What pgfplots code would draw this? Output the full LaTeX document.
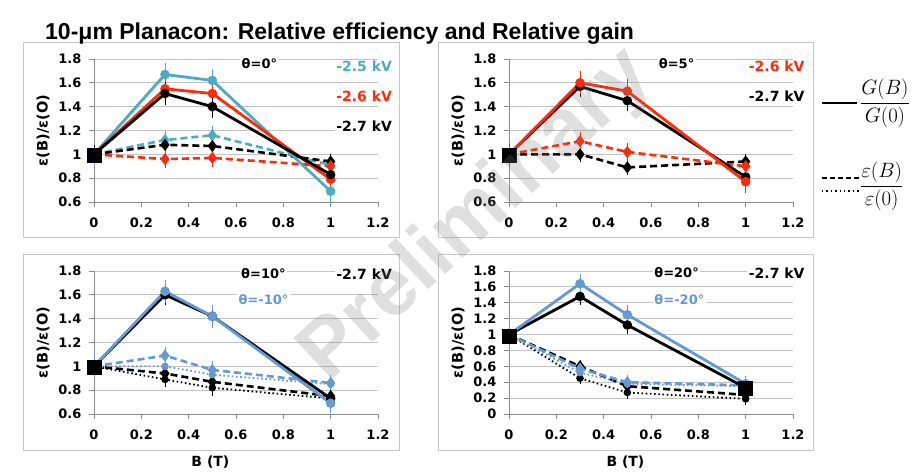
\documentclass[border=0pt]{standalone}
\usepackage{fontspec}
\setmainfont{DejaVu Sans}
\newfontfamily\arialf{Liberation Sans}
\usepackage{pgfplots}
\pgfplotsset{compat=1.18}
\definecolor{cyanX}{HTML}{4BACC6}
\definecolor{redX}{HTML}{FF2A0A}
\definecolor{blueX}{HTML}{6499D2}
\definecolor{gridX}{HTML}{C4C4C4}
\definecolor{axisX}{HTML}{8C8C8C}
\definecolor{frameX}{HTML}{C8C8C8}
\tikzset{
 lab/.style={fill=white, inner sep=1.5pt, font=\bfseries\fontsize{13}{15}\selectfont},
 kv/.style={fill=white, inner sep=1.5pt, anchor=east, font=\bfseries\fontsize{14}{16}\selectfont},
}
\pgfplotsset{
 panel/.style={scale only axis, width=284pt, height=143pt, xmin=0, xmax=1.2,
   xtick={0,0.2,0.4,0.6,0.8,1,1.2},
   axis x line=bottom, axis y line=left, axis line style={-, axisX, line width=0.8pt},
   ymajorgrids, grid style={gridX, line width=0.8pt},
   major tick style={axisX, line width=0.8pt}, major tick length=5pt, tick align=outside,
   /pgf/number format/assume math mode=true,
   ticklabel style={font=\bfseries\fontsize{13}{15}\selectfont},
   yticklabel style={xshift=-4pt},
   xticklabel style={yshift=-7pt},
   clip=false,
   ylabel={\bfseries ε(B)/ε(O)},
   every axis y label/.style={at={(axis description cs:-0.1796,0.5)}, rotate=90, anchor=center, font=\fontsize{14.5}{16}\selectfont},
   every axis x label/.style={at={(axis description cs:0.41,-0.336)}, anchor=center, font=\bfseries\fontsize{14}{16}\selectfont},
 },
 base/.style={error bars/y dir=both, error bars/y explicit,
   error bars/error bar style={line width=0.8pt, solid},
   error bars/error mark options={mark size=3pt, line width=0.8pt, solid},
   mark options={solid}},
 solidL/.style={base, line width=2.8pt, mark=*, mark size=3.3pt},
 dashL/.style={base, line width=2.6pt, dash pattern=on 7pt off 4pt, mark=diamond*, mark size=4pt},
 dotL/.style={base, line width=1.8pt, dash pattern=on 1.6pt off 2.6pt, mark=*, mark size=2.8pt},
 sq/.style={only marks, mark=square*, mark size=7pt, black},
}
\begin{document}
\begin{tikzpicture}
\path[use as bounding box, fill=white] (0pt,0pt) rectangle (924pt,473pt);
% frames
\draw[frameX, line width=1pt] (23pt,235pt) rectangle (399pt,430pt);
\draw[frameX, line width=1pt] (438pt,235pt) rectangle (813pt,430pt);
\draw[frameX, line width=1pt] (23pt,22pt) rectangle (399pt,218pt);
\draw[frameX, line width=1pt] (438pt,22pt) rectangle (813pt,218pt);
% title
\node[anchor=base west, inner sep=0pt, font=\arialf\bfseries\fontsize{23}{27}\selectfont] at (45pt,433pt) {10-μm Planacon: Relative efficiency and Relative gain};

% Panel 1
\begin{axis}[panel, at={(94pt,271pt)}, anchor=south west, ymin=0.6, ymax=1.8,
  ytick={0.6,0.8,1,1.2,1.4,1.6,1.8}]
\node[lab] at (axis cs:0.699,1.76) {θ=0°};
\node[kv, text=cyanX] at (axis cs:1.266,1.736) {-2.5 kV};
\node[kv, text=redX] at (axis cs:1.266,1.49) {-2.6 kV};
\node[kv] at (axis cs:1.266,1.24) {-2.7 kV};
\addplot[color=cyanX, dashL] coordinates {(0,1) +- (0,0.04) (0.3,1.12) +- (0,0.05) (0.5,1.16) +- (0,0.05) (1,0.91) +- (0,0.04)};
\addplot[color=black, dashL] coordinates {(0,1) +- (0,0.04) (0.3,1.08) +- (0,0.05) (0.5,1.07) +- (0,0.05) (1,0.94) +- (0,0.04)};
\addplot[color=redX, dashL] coordinates {(0,1) +- (0,0.04) (0.3,0.96) +- (0,0.05) (0.5,0.97) +- (0,0.05) (1,0.90) +- (0,0.04)};
\addplot[color=cyanX, solidL] coordinates {(0,1) +- (0,0.07) (0.3,1.67) +- (0,0.07) (0.5,1.62) +- (0,0.07) (1,0.69) +- (0,0.07)};
\addplot[color=redX, solidL] coordinates {(0,1) +- (0,0.05) (0.3,1.55) +- (0,0.07) (0.5,1.51) +- (0,0.06) (1,0.79) +- (0,0.04)};
\addplot[color=black, solidL] coordinates {(0,1) +- (0,0.05) (0.3,1.51) +- (0,0.07) (0.5,1.40) +- (0,0.07) (1,0.83) +- (0,0.05)};
\addplot[sq] coordinates {(0,0.99)};
\end{axis}

% Panel 2
\begin{axis}[panel, at={(509pt,271pt)}, anchor=south west, ymin=0.6, ymax=1.8,
  ytick={0.6,0.8,1,1.2,1.4,1.6,1.8}]
\node[lab] at (axis cs:0.708,1.76) {θ=5°};
\node[kv, text=redX] at (axis cs:1.256,1.736) {-2.6 kV};
\node[kv] at (axis cs:1.256,1.49) {-2.7 kV};
\addplot[color=black, dashL] coordinates {(0,1) +- (0,0.04) (0.3,1.00) +- (0,0.04) (0.5,0.89) +- (0,0.04) (1,0.94) +- (0,0.04)};
\addplot[color=redX, dashL] coordinates {(0,1) +- (0,0.04) (0.3,1.11) +- (0,0.05) (0.5,1.02) +- (0,0.05) (1,0.90) +- (0,0.04)};
\addplot[color=black, solidL] coordinates {(0,1) +- (0,0.05) (0.3,1.57) +- (0,0.06) (0.5,1.45) +- (0,0.06) (1,0.81) +- (0,0.05)};
\addplot[color=redX, solidL] coordinates {(0,1) +- (0,0.07) (0.3,1.60) +- (0,0.07) (0.5,1.53) +- (0,0.08) (1,0.77) +- (0,0.07)};
\addplot[sq] coordinates {(0,0.99)};
\end{axis}

% Panel 3
\begin{axis}[panel, at={(94pt,59pt)}, anchor=south west, ymin=0.6, ymax=1.8,
  ytick={0.6,0.8,1,1.2,1.4,1.6,1.8}, xlabel={B (T)}]
\node[lab] at (axis cs:0.716,1.777) {θ=10°};
\node[kv] at (axis cs:1.266,1.777) {-2.7 kV};
\node[lab, text=blueX] at (axis cs:0.716,1.56) {θ=-10°};
\addplot[color=black, dotL] coordinates {(0,1) +- (0,0.03) (0.3,0.89) +- (0,0.04) (0.5,0.82) +- (0,0.04) (1,0.73) +- (0,0.04)};
\addplot[color=black, dashL] coordinates {(0,1) +- (0,0.03) (0.3,0.94) +- (0,0.04) (0.5,0.87) +- (0,0.04) (1,0.75) +- (0,0.04)};
\addplot[color=blueX, dotL] coordinates {(0,1) +- (0,0.03) (0.3,1.00) +- (0,0.04) (0.5,0.93) +- (0,0.04) (1,0.85) +- (0,0.04)};
\addplot[color=blueX, dashL] coordinates {(0,1) +- (0,0.04) (0.3,1.09) +- (0,0.05) (0.5,0.97) +- (0,0.05) (1,0.86) +- (0,0.04)};
\addplot[color=black, solidL] coordinates {(0,1) +- (0,0.05) (0.3,1.60) +- (0,0.06) (0.5,1.42) +- (0,0.05) (1,0.73) +- (0,0.05)};
\addplot[color=blueX, solidL] coordinates {(0,1) +- (0,0.07) (0.3,1.63) +- (0,0.07) (0.5,1.42) +- (0,0.07) (1,0.69) +- (0,0.06)};
\addplot[sq] coordinates {(0,0.99)};
\end{axis}

% Panel 4
\begin{axis}[panel, at={(509pt,59pt)}, anchor=south west, ymin=0, ymax=1.8,
  ytick={0,0.2,0.4,0.6,0.8,1,1.2,1.4,1.6,1.8}, xlabel={B (T)}]
\node[lab] at (axis cs:0.708,1.775) {θ=20°};
\node[kv] at (axis cs:1.256,1.775) {-2.7 kV};
\node[lab, text=blueX] at (axis cs:0.72,1.436) {θ=-20°};
\addplot[color=black, dotL] coordinates {(0,1) +- (0,0.03) (0.3,0.45) +- (0,0.04) (0.5,0.27) +- (0,0.04) (1,0.19) +- (0,0.04)};
\addplot[color=black, dashL] coordinates {(0,1) +- (0,0.03) (0.3,0.60) +- (0,0.04) (0.5,0.35) +- (0,0.04) (1,0.24) +- (0,0.04)};
\addplot[color=blueX, dotL] coordinates {(0,1) +- (0,0.03) (0.3,0.52) +- (0,0.04) (0.5,0.38) +- (0,0.04) (1,0.35) +- (0,0.04)};
\addplot[color=blueX, dashL] coordinates {(0,1) +- (0,0.04) (0.3,0.57) +- (0,0.05) (0.5,0.40) +- (0,0.05) (1,0.36) +- (0,0.05)};
\addplot[color=black, solidL] coordinates {(0,1) +- (0,0.05) (0.3,1.48) +- (0,0.07) (0.5,1.12) +- (0,0.08) (1,0.33) +- (0,0.05)};
\addplot[color=blueX, solidL] coordinates {(0,1) +- (0,0.08) (0.3,1.64) +- (0,0.08) (0.5,1.25) +- (0,0.09) (1,0.38) +- (0,0.06)};
\addplot[sq] coordinates {(0,0.98) (1,0.32)};
\end{axis}

% legend
\draw[black, line width=2.6pt] (822pt,370pt) -- (857pt,370pt);
\node[anchor=west, inner sep=1pt, font=\fontsize{21}{25}\selectfont] at (859pt,370pt) {$\displaystyle\frac{G(B)}{G(0)}$};
\draw[black, line width=2.2pt, dash pattern=on 5pt off 3pt] (822pt,295pt) -- (860pt,295pt);
\draw[black, line width=1.4pt, dash pattern=on 1.4pt off 3pt] (822pt,282pt) -- (860pt,282pt);
\node[anchor=west, inner sep=1pt, font=\fontsize{21}{25}\selectfont] at (859pt,287pt) {$\displaystyle\frac{\varepsilon(B)}{\varepsilon(0)}$};

% watermark
\node[rotate=43, text=gray, opacity=0.25, font=\arialf\bfseries\fontsize{82}{84}\selectfont] at (477pt,257pt) {Preliminary};
\end{tikzpicture}
\end{document}
